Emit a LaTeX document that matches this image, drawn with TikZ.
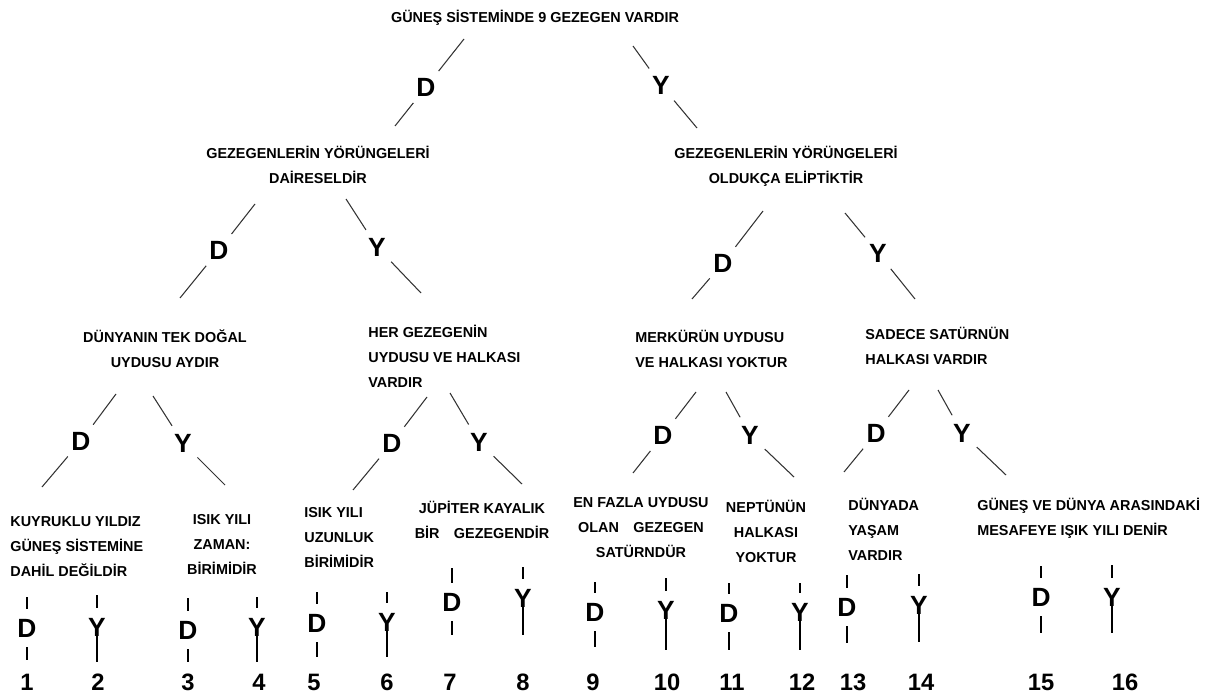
\documentclass[tikz,border=0pt]{standalone}
\usepackage{fontspec}
\setmainfont{Liberation Sans}
\begin{document}
\begin{tikzpicture}[x=0.02cm,y=-0.02cm,
    text node/.style={font=\fontsize{8.2}{14.2}\selectfont\bfseries,inner sep=0pt},
    branch node/.style={circle,inner sep=0pt,minimum size=0.8cm,font=\fontsize{15}{15}\selectfont\bfseries},
    leaf node/.style={inner sep=0pt,font=\fontsize{15}{15}\selectfont\bfseries},
    number node/.style={inner sep=0pt,font=\fontsize{13.5}{13.5}\selectfont\bfseries},
    tree line/.style={line width=0.6pt,black!80},
    stem line/.style={line width=1.5pt},
    gap in/.style={shorten >=0.2cm},
    gap out/.style={shorten <=0.2cm}
    ]
  \useasboundingbox (0,0) rectangle (1219,695);
  % statements
  \node[text node] (root) at (535,18) {GÜNEŞ SİSTEMİNDE 9 GEZEGEN VARDIR};
  \node[text node,align=center] (q1) at (318,165) {GEZEGENLERİN YÖRÜNGELERİ\\DAİRESELDİR};
  \node[text node,align=center] (q2) at (786,166.5) {GEZEGENLERİN YÖRÜNGELERİ\\OLDUKÇA ELİPTİKTİR};
  \node[text node,align=center] (q11) at (165,349) {DÜNYANIN TEK DOĞAL\\UYDUSU AYDIR};
  \node[text node,align=left,anchor=west] (q12) at (368,356.5) {HER GEZEGENİN\\UYDUSU VE HALKASI\\VARDIR};
  \node[text node,align=left,anchor=west] (q21) at (635,349) {MERKÜRÜN UYDUSU\\VE HALKASI YOKTUR};
  \node[text node,align=left,anchor=west] (q22) at (865,345.5) {SADECE SATÜRNÜN\\HALKASI VARDIR};
  \node[text node,align=left,anchor=west] (a1) at (10,546.5) {KUYRUKLU YILDIZ\\GÜNEŞ SİSTEMİNE\\DAHİL DEĞİLDİR};
  \node[text node,align=center] (a2) at (222,544.5) {ISIK YILI\\ZAMAN:\\BİRİMİDİR};
  \node[text node,align=left,anchor=west] (a3) at (304,537.5) {ISIK YILI\\UZUNLUK\\BİRİMİDİR};
  \node[text node,align=center] (a4) at (482,520) {JÜPİTER KAYALIK\\BİR\quad GEZEGENDİR};
  \node[text node,align=center] (a5) at (641,527.5) {EN FAZLA UYDUSU\\OLAN\quad GEZEGEN\\SATÜRNDÜR};
  \node[text node,align=center] (a6) at (766,531) {NEPTÜNÜN\\HALKASI\\YOKTUR};
  \node[text node,align=left,anchor=west] (a7) at (848,529) {DÜNYADA\\YAŞAM\\VARDIR};
  \node[text node,align=left,anchor=west] (a8) at (977,518.5) {GÜNEŞ VE DÜNYA ARASINDAKİ\\MESAFEYE IŞIK YILI DENİR};
  % D / Y on the branches
  \node[branch node] (rD) at (426,87) {D};
  \node[branch node] (rY) at (661,85) {Y};
  \node[branch node] (q1D) at (219,250) {D};
  \node[branch node] (q1Y) at (377,247) {Y};
  \node[branch node] (q2D) at (723,263) {D};
  \node[branch node] (q2Y) at (878,253) {Y};
  \node[branch node] (q11D) at (81,441) {D};
  \node[branch node] (q11Y) at (183,443) {Y};
  \node[branch node] (q12D) at (392,443) {D};
  \node[branch node] (q12Y) at (479,442) {Y};
  \node[branch node] (q21D) at (663,435) {D};
  \node[branch node] (q21Y) at (750,435) {Y};
  \node[branch node] (q22D) at (876,433) {D};
  \node[branch node] (q22Y) at (962,433) {Y};
  % where the branches stop short of the texts
  \coordinate (root-D) at (464,39);   \coordinate (root-Y) at (633,46);
  \coordinate (q1-in) at (395,126);   \coordinate (q2-in) at (697,128);
  \coordinate (q1-D) at (255,204);    \coordinate (q1-Y) at (346,199);
  \coordinate (q2-D) at (763,211);    \coordinate (q2-Y) at (845,213);
  \coordinate (q11-in) at (180,298);  \coordinate (q12-in) at (421,293);
  \coordinate (q21-in) at (692,299);  \coordinate (q22-in) at (915,299);
  \coordinate (q11-D) at (116,394);   \coordinate (q11-Y) at (153,396);
  \coordinate (q12-D) at (427,397);   \coordinate (q12-Y) at (450,393);
  \coordinate (q21-D) at (696,392);   \coordinate (q21-Y) at (726,392);
  \coordinate (q22-D) at (909,390);   \coordinate (q22-Y) at (938,390);
  \coordinate (a1-in) at (42,487);    \coordinate (a2-in) at (225,485);
  \coordinate (a3-in) at (353,490);   \coordinate (a4-in) at (522,484);
  \coordinate (a5-in) at (633,473);   \coordinate (a6-in) at (794,477);
  \coordinate (a7-in) at (844,472);   \coordinate (a8-in) at (1006,475);
  \path[tree line]%
    (root-D) edge (rD)  (rD) edge (q1-in)
    (root-Y) edge (rY)  (rY) edge (q2-in)
    (q1-D) edge (q1D)   (q1D) edge (q11-in)
    (q1-Y) edge (q1Y)   (q1Y) edge (q12-in)
    (q2-D) edge (q2D)   (q2D) edge (q21-in)
    (q2-Y) edge (q2Y)   (q2Y) edge (q22-in)
    (q11-D) edge (q11D) (q11D) edge (a1-in)
    (q11-Y) edge (q11Y) (q11Y) edge (a2-in)
    (q12-D) edge (q12D) (q12D) edge (a3-in)
    (q12-Y) edge (q12Y) (q12Y) edge (a4-in)
    (q21-D) edge (q21D) (q21D) edge (a5-in)
    (q21-Y) edge (q21Y) (q21Y) edge (a6-in)
    (q22-D) edge (q22D) (q22D) edge (a7-in)
    (q22-Y) edge (q22Y) (q22Y) edge (a8-in);
  % answers 1..16
  \node[leaf node] (l1) at (27,628) {D};    \node[number node] (n1) at (27,682) {1};
  \node[leaf node] (l2) at (97,627) {Y};    \node[number node] (n2) at (98,682) {2};
  \node[leaf node] (l3) at (188,630) {D};   \node[number node] (n3) at (188,682) {3};
  \node[leaf node] (l4) at (257,627) {Y};   \node[number node] (n4) at (259,682) {4};
  \node[leaf node] (l5) at (317,623) {D};   \node[number node] (n5) at (314,682) {5};
  \node[leaf node] (l6) at (387,622) {Y};   \node[number node] (n6) at (387,682) {6};
  \node[leaf node] (l7) at (452,602) {D};   \node[number node] (n7) at (450,682) {7};
  \node[leaf node] (l8) at (523,598) {Y};   \node[number node] (n8) at (523,682) {8};
  \node[leaf node] (l9) at (595,612) {D};   \node[number node] (n9) at (593,682) {9};
  \node[leaf node] (l10) at (666,610) {Y};  \node[number node] (n10) at (667,682) {10};
  \node[leaf node] (l11) at (729,613) {D};  \node[number node] (n11) at (732,682) {11};
  \node[leaf node] (l12) at (800,612) {Y};  \node[number node] (n12) at (802,682) {12};
  \node[leaf node] (l13) at (847,607) {D};  \node[number node] (n13) at (853,682) {13};
  \node[leaf node] (l14) at (919,605) {Y};  \node[number node] (n14) at (921,682) {14};
  \node[leaf node] (l15) at (1041,597) {D}; \node[number node] (n15) at (1041,682) {15};
  \node[leaf node] (l16) at (1112,597) {Y}; \node[number node] (n16) at (1125,682) {16};
  \coordinate (t1) at (27,597);    \coordinate (b1) at (27,660);
  \coordinate (t2) at (97,595);    \coordinate (b2) at (97,662);
  \coordinate (t3) at (188,598);   \coordinate (b3) at (188,662);
  \coordinate (t4) at (257,597);   \coordinate (b4) at (257,662);
  \coordinate (t5) at (317,592);   \coordinate (b5) at (317,657);
  \coordinate (t6) at (387,592);   \coordinate (b6) at (387,657);
  \coordinate (t7) at (452,568);   \coordinate (b7) at (452,635);
  \coordinate (t8) at (523,567);   \coordinate (b8) at (523,635);
  \coordinate (t9) at (595,582);   \coordinate (b9) at (595,647);
  \coordinate (t10) at (666,578);  \coordinate (b10) at (666,650);
  \coordinate (t11) at (729,583);  \coordinate (b11) at (729,650);
  \coordinate (t12) at (800,583);  \coordinate (b12) at (800,650);
  \coordinate (t13) at (847,575);  \coordinate (b13) at (847,643);
  \coordinate (t14) at (919,574);  \coordinate (b14) at (919,642);
  \coordinate (t15) at (1041,566); \coordinate (b15) at (1041,633);
  \coordinate (t16) at (1112,565); \coordinate (b16) at (1112,633);
  % D answers: gap above and below, Y answers: the stem runs on from the letter
  \draw[stem line,gap in] (t1) -- (l1);   \draw[stem line,gap out] (l1) -- (b1);
  \draw[stem line,gap in] (t2) -- (l2);   \draw[stem line] (l2) -- (b2);
  \draw[stem line,gap in] (t3) -- (l3);   \draw[stem line,gap out] (l3) -- (b3);
  \draw[stem line,gap in] (t4) -- (l4);   \draw[stem line] (l4) -- (b4);
  \draw[stem line,gap in] (t5) -- (l5);   \draw[stem line,gap out] (l5) -- (b5);
  \draw[stem line,gap in] (t6) -- (l6);   \draw[stem line] (l6) -- (b6);
  \draw[stem line,gap in] (t7) -- (l7);   \draw[stem line,gap out] (l7) -- (b7);
  \draw[stem line,gap in] (t8) -- (l8);   \draw[stem line] (l8) -- (b8);
  \draw[stem line,gap in] (t9) -- (l9);   \draw[stem line,gap out] (l9) -- (b9);
  \draw[stem line,gap in] (t10) -- (l10); \draw[stem line] (l10) -- (b10);
  \draw[stem line,gap in] (t11) -- (l11); \draw[stem line,gap out] (l11) -- (b11);
  \draw[stem line,gap in] (t12) -- (l12); \draw[stem line] (l12) -- (b12);
  \draw[stem line,gap in] (t13) -- (l13); \draw[stem line,gap out] (l13) -- (b13);
  \draw[stem line,gap in] (t14) -- (l14); \draw[stem line] (l14) -- (b14);
  \draw[stem line,gap in] (t15) -- (l15); \draw[stem line,gap out] (l15) -- (b15);
  \draw[stem line,gap in] (t16) -- (l16); \draw[stem line] (l16) -- (b16);
\end{tikzpicture}
\end{document}
